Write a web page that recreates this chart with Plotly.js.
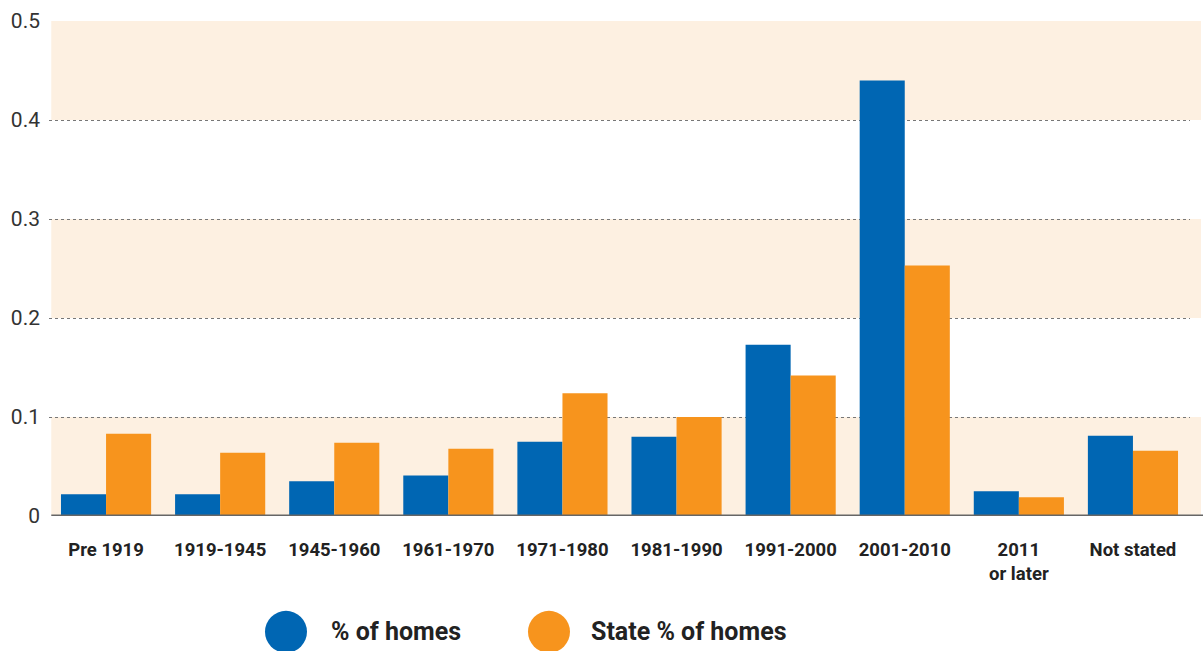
<!DOCTYPE html>
<html><head><meta charset="utf-8">
<script src="https://cdn.plot.ly/plotly-3.0.1.min.js"></script>
<style>html,body{margin:0;padding:0;background:#fff}#chart{width:1203px;height:651px}</style>
</head><body><div id="chart"></div>
<script>
const categories = ["Pre 1919","1919-1945","1945-1960","1961-1970","1971-1980","1981-1990","1991-2000","2001-2010","2011<br>or later","Not stated"];
const homes = [0.022,0.022,0.035,0.041,0.075,0.080,0.173,0.440,0.025,0.081];
const stateHomes = [0.083,0.064,0.074,0.068,0.124,0.100,0.142,0.253,0.019,0.066];
const seriesNames = ["% of homes","State % of homes"];
const yTicks = [0,0.1,0.2,0.3,0.4,0.5];
const yTickText = ["0","0.1","0.2","0.3","0.4","0.5"];
const BLUE = "#0066b3", ORANGE = "#f7941d";

const traces = [
  {type:"bar", x:categories, y:homes, name:seriesNames[0], marker:{color:BLUE}, hoverinfo:"y"},
  {type:"bar", x:categories, y:stateHomes, name:seriesNames[1], marker:{color:ORANGE}, hoverinfo:"y"}
];

const shapes = [];
[[0,0.1],[0.2,0.3],[0.4,0.5]].forEach(b=>{
  shapes.push({type:"rect", layer:"below", xref:"paper", yref:"y", x0:0.002, x1:1.0096, y0:b[0], y1:b[1], fillcolor:"#fdf0e1", line:{width:0}});
});
shapes.push({type:"line", xref:"paper", yref:"y", x0:0.002, x1:1.012, y0:0, y1:0, line:{color:"#666", width:3}});
const legY = -0.234;
[[0.2077,BLUE],[0.4382,ORANGE]].forEach(c=>{
  shapes.push({type:"circle", xref:"paper", yref:"paper", xsizemode:"pixel", ysizemode:"pixel",
    xanchor:c[0], yanchor:legY, x0:-21, x1:21, y0:-21, y1:21, fillcolor:c[1], line:{width:0}});
});

const annotations = [
  {xref:"paper", yref:"paper", x:0.2454, y:legY, xanchor:"left", yanchor:"middle", showarrow:false, text:seriesNames[0], font:{family:"Roboto, sans-serif", size:25, color:"#222", weight:"bold"}},
  {xref:"paper", yref:"paper", x:0.4733, y:legY, xanchor:"left", yanchor:"middle", showarrow:false, text:seriesNames[1], font:{family:"Roboto, sans-serif", size:25, color:"#222", weight:"bold"}}
];

const layout = {
  width:1203, height:651,
  margin:{l:49, r:13, t:21, b:135},
  paper_bgcolor:"#fff", plot_bgcolor:"rgba(0,0,0,0)",
  barmode:"group", bargap:0.21, bargroupgap:0,
  showlegend:false,
  xaxis:{type:"category", showgrid:false, zeroline:false, showline:false, ticks:"",
    ticklabelstandoff:20,
    tickfont:{family:"Roboto, sans-serif", size:18.5, color:"#222", weight:"bold"}},
  yaxis:{range:[0,0.5], tickvals:yTicks, ticktext:yTickText, showgrid:true, gridcolor:"#777", griddash:"dot", gridwidth:1,
    zeroline:false, showline:false, ticks:"", ticklabelstandoff:8,
    tickfont:{family:"Roboto, sans-serif", size:21, color:"#333"}},
  shapes:shapes, annotations:annotations
};
Plotly.newPlot("chart", traces, layout, {displayModeBar:false, staticPlot:true});
</script></body></html>
